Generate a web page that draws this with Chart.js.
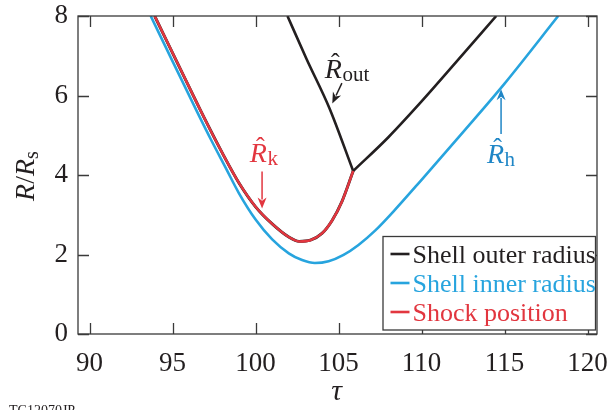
<!DOCTYPE html>
<html>
<head>
<meta charset="utf-8">
<script src="https://cdn.jsdelivr.net/npm/chart.js@4.4.1/dist/chart.umd.min.js"></script>
<style>
  html, body { margin: 0; padding: 0; background: #fff; }
  #wrap { width: 608px; height: 410px; }
</style>
</head>
<body>
<div id="wrap"><canvas id="chart" width="608" height="410"></canvas></div>
<script>
// axis ticks
const xTicks = [90, 95, 100, 105, 110, 115, 120];
const yTicks = [0, 2, 4, 6, 8];

// shell inner radius (blue)
const innerTau = [93.68, 95, 96.5, 97.3, 98.2, 99, 100, 101, 102, 102.8, 103.57, 104.4, 105.3, 106.2, 107.2, 108.3, 110, 112.5, 115, 118.23];
const innerR   = [8, 6.86, 5.57, 4.9, 4.18, 3.54, 2.88, 2.38, 2.03, 1.86, 1.785, 1.83, 1.99, 2.24, 2.6, 3.08, 3.88, 5.08, 6.3, 8];

// shock position (red)
const shockTau = [93.92, 95.5, 97, 98, 99, 100, 101, 102, 102.62, 103.3, 104, 104.6, 105.2, 105.88];
const shockR   = [8, 6.64, 5.36, 4.55, 3.8, 3.2, 2.77, 2.44, 2.33, 2.36, 2.53, 2.85, 3.33, 4.1];

// shell outer radius (black): falling branch, then rising branch after the joint
const outerFallTau = [101.92, 103.07, 104.45, 105.88];
const outerFallR   = [8, 6.92, 5.68, 4.1];
const outerRiseTau = [105.88, 108, 110, 112, 114.5];
const outerRiseR   = [4.1, 4.95, 5.85, 6.8, 8];

const SERIF = '"Liberation Serif", "Times New Roman", serif';
const BLACK = '#231f20';
const BLUE = '#27a4de';
const DARKBLUE = '#1f86c6';
const RED = '#e2363f';

function toPoints(xs, ys) {
  return xs.map((x, i) => ({ x: x, y: ys[i] }));
}

function drawArrow(ctx, x1, y1, x2, y2, color) {
  const ang = Math.atan2(y2 - y1, x2 - x1);
  const len = 11, half = 4.5;
  ctx.strokeStyle = color;
  ctx.fillStyle = color;
  ctx.lineWidth = 1.5;
  ctx.beginPath();
  ctx.moveTo(x1, y1);
  ctx.lineTo(x2 - Math.cos(ang) * len * 0.8, y2 - Math.sin(ang) * len * 0.8);
  ctx.stroke();
  ctx.beginPath();
  ctx.moveTo(x2, y2);
  ctx.lineTo(x2 - Math.cos(ang) * len - Math.sin(ang) * half, y2 - Math.sin(ang) * len + Math.cos(ang) * half);
  ctx.lineTo(x2 - Math.cos(ang) * len * 0.7, y2 - Math.sin(ang) * len * 0.7);
  ctx.lineTo(x2 - Math.cos(ang) * len + Math.sin(ang) * half, y2 - Math.sin(ang) * len - Math.cos(ang) * half);
  ctx.closePath();
  ctx.fill();
}

// italic R with a hat and an upright subscript
function hatR(ctx, x, y, sub, color) {
  ctx.fillStyle = color;
  ctx.textAlign = 'left';
  ctx.textBaseline = 'alphabetic';
  ctx.font = 'italic 28px ' + SERIF;
  ctx.fillText('R', x, y);
  const w = ctx.measureText('R').width;
  ctx.font = '26px ' + SERIF;
  ctx.textAlign = 'center';
  ctx.fillText('\u02C6', x + w * 0.62, y - 7);
  ctx.textAlign = 'left';
  ctx.font = '21px ' + SERIF;
  ctx.fillText(sub, x + w + 0.5, y + 3);
}

const decorPlugin = {
  id: 'decor',
  afterDatasetsDraw(chart) {
    const ctx = chart.ctx;
    const a = chart.chartArea;
    const xs = chart.scales.x, ys = chart.scales.y;
    ctx.save();

    // frame with inward ticks on all four sides
    ctx.strokeStyle = '#3a3a3a';
    ctx.lineWidth = 1.3;
    ctx.strokeRect(a.left, a.top, a.right - a.left, a.bottom - a.top);
    const tl = 11;
    ctx.beginPath();
    xTicks.forEach(v => {
      const px = Math.round(xs.getPixelForValue(v)) + 0.5;
      ctx.moveTo(px, a.bottom); ctx.lineTo(px, a.bottom - tl);
      ctx.moveTo(px, a.top); ctx.lineTo(px, a.top + tl);
    });
    yTicks.forEach(v => {
      const py = Math.round(ys.getPixelForValue(v)) + 0.5;
      ctx.moveTo(a.left, py); ctx.lineTo(a.left + tl, py);
      ctx.moveTo(a.right, py); ctx.lineTo(a.right - tl, py);
    });
    ctx.stroke();

    // curve labels
    hatR(ctx, xs.getPixelForValue(104.17), ys.getPixelForValue(6.45), 'out', BLACK);
    drawArrow(ctx, xs.getPixelForValue(105.2), ys.getPixelForValue(6.31),
      xs.getPixelForValue(104.62), ys.getPixelForValue(5.8), BLACK);

    hatR(ctx, xs.getPixelForValue(99.65), ys.getPixelForValue(4.33), 'k', RED);
    drawArrow(ctx, xs.getPixelForValue(100.39), ys.getPixelForValue(4.09),
      xs.getPixelForValue(100.39), ys.getPixelForValue(3.16), RED);

    hatR(ctx, xs.getPixelForValue(113.94), ys.getPixelForValue(4.3), 'h', DARKBLUE);
    drawArrow(ctx, xs.getPixelForValue(114.79), ys.getPixelForValue(5.03),
      xs.getPixelForValue(114.79), ys.getPixelForValue(6.16), DARKBLUE);

    // legend box
    const lx = 383, ly = 236.5, lw = 212.5, lh = 93.5;
    ctx.fillStyle = '#fff';
    ctx.fillRect(lx, ly, lw, lh);
    ctx.strokeStyle = '#3a3a3a';
    ctx.lineWidth = 1.3;
    ctx.strokeRect(lx, ly, lw, lh);
    const entries = [
      ['Shell outer radius', BLACK],
      ['Shell inner radius', BLUE],
      ['Shock position', RED],
    ];
    ctx.font = '26px ' + SERIF;
    ctx.textAlign = 'left';
    ctx.textBaseline = 'alphabetic';
    entries.forEach((e, i) => {
      const base = 262.5 + i * 29;
      ctx.strokeStyle = e[1];
      ctx.lineWidth = 2.6;
      ctx.beginPath();
      ctx.moveTo(390.5, base - 8.5);
      ctx.lineTo(409.5, base - 8.5);
      ctx.stroke();
      ctx.fillStyle = e[1];
      ctx.fillText(e[0], 412.5, base);
    });

    // axis titles
    ctx.fillStyle = BLACK;
    ctx.font = 'italic 30px ' + SERIF;
    ctx.textAlign = 'center';
    ctx.fillText('\u03C4', (a.left + a.right) / 2 - 1, 400);

    ctx.save();
    ctx.translate(34, 176);
    ctx.rotate(-Math.PI / 2);
    ctx.textAlign = 'left';
    const parts = [
      ['R', 'italic 28px ' + SERIF, 0],
      ['/', '28px ' + SERIF, 0],
      ['R', 'italic 28px ' + SERIF, 0],
      ['s', '20px ' + SERIF, 4],
    ];
    let total = 0;
    parts.forEach(p => { ctx.font = p[1]; total += ctx.measureText(p[0]).width; });
    let cx = -total / 2;
    parts.forEach(p => {
      ctx.font = p[1];
      ctx.fillText(p[0], cx, p[2]);
      cx += ctx.measureText(p[0]).width;
    });
    ctx.restore();

    // figure id at the bottom edge
    ctx.font = '14px ' + SERIF;
    ctx.textAlign = 'left';
    ctx.fillText('TC12070JP', 9, 415);

    ctx.restore();
  }
};

const lineStyle = {
  borderWidth: 2.6,
  pointRadius: 0,
  cubicInterpolationMode: 'monotone',
};

const ctx = document.getElementById('chart');

new Chart(ctx, {
  type: 'line',
  data: {
    datasets: [
      { ...lineStyle, label: 'Shock position', data: toPoints(shockTau, shockR), borderColor: RED, borderWidth: 2.5 },
      { ...lineStyle, label: 'Shell outer radius (under shock)', data: toPoints(shockTau, shockR), borderColor: BLACK, borderWidth: 2.9 },
      { ...lineStyle, label: 'Shell outer radius', data: toPoints(outerFallTau, outerFallR), borderColor: BLACK },
      { ...lineStyle, label: 'Shell outer radius (rising)', data: toPoints(outerRiseTau, outerRiseR), borderColor: BLACK },
      { ...lineStyle, label: 'Shell inner radius', data: toPoints(innerTau, innerR), borderColor: BLUE },
    ],
  },
  options: {
    responsive: false,
    animation: false,
    layout: { padding: { left: 0, right: 11, top: 16, bottom: 0 } },
    plugins: {
      legend: { display: false },
      tooltip: { enabled: false },
    },
    scales: {
      x: {
        type: 'linear',
        min: 89.3,
        max: 120.57,
        afterBuildTicks: s => { s.ticks = xTicks.map(v => ({ value: v })); },
        afterFit: s => {
          s.height = 76;
          s.paddingLeft = 0; s.paddingRight = 0;
        },
        grid: { display: false, drawTicks: false },
        border: { display: false },
        ticks: {
          font: { family: SERIF, size: 27 },
          color: BLACK,
          padding: 14,
          maxRotation: 0,
          autoSkip: false,
        },
      },
      y: {
        min: 0,
        max: 8,
        afterBuildTicks: s => { s.ticks = yTicks.map(v => ({ value: v })); },
        afterFit: s => {
          s.width = 78;
          s.paddingTop = 0; s.paddingBottom = 0;
        },
        grid: { display: false, drawTicks: false },
        border: { display: false },
        ticks: {
          font: { family: SERIF, size: 27 },
          color: BLACK,
          padding: 10,
        },
      },
    },
  },
  plugins: [decorPlugin],
});
</script>
</body>
</html>
